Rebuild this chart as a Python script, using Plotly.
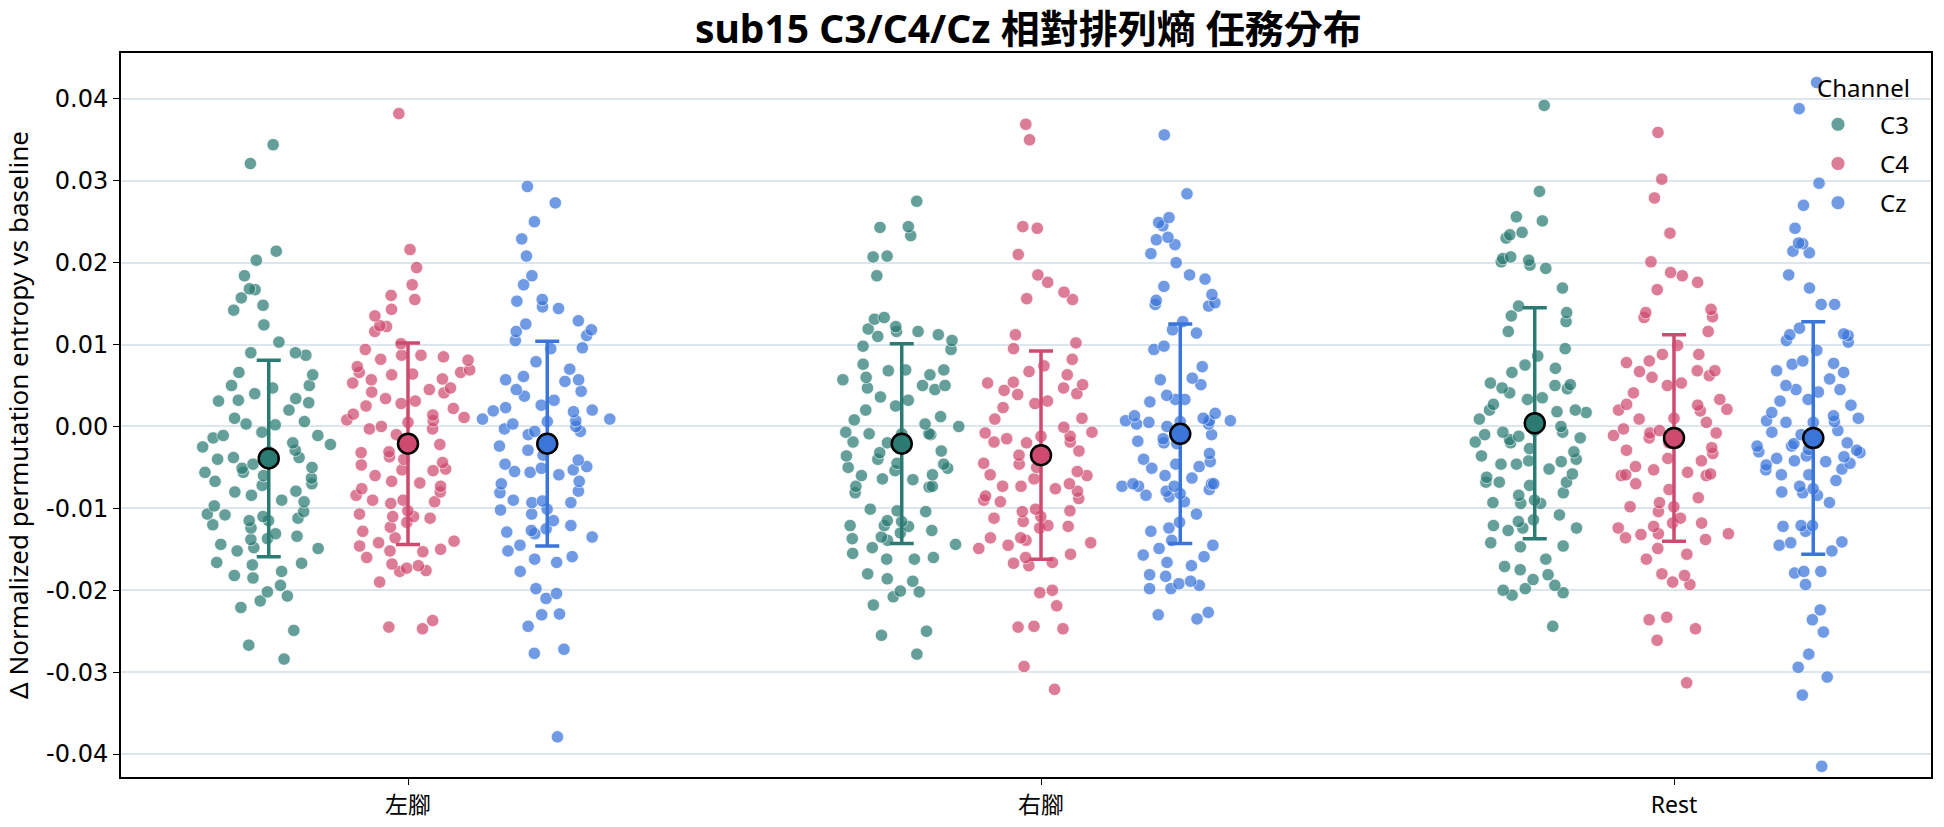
import plotly.graph_objects as go

# ---------------- data ----------------
conditions = ["左腳", "右腳", "Rest"]
channels = ["C3", "C4", "Cz"]

c3_left = [0.0344, 0.0321, 0.0214, 0.0203, 0.0184, 0.0168, 0.0167, 0.0157, 0.0148, 0.0142,
           0.0124, 0.0103, 0.0090, 0.0090, 0.0087, 0.0063, 0.0066, 0.0050, 0.0047, 0.0040,
           0.0034, 0.0032, 0.0031, 0.0029, 0.0006, 0.0003, 0.0002, -0.0007, -0.0011, -0.0011,
           -0.0014, -0.0022, -0.0025, -0.0029, -0.0038, -0.0038, -0.0031, -0.0046, -0.0051, -0.0060,
           -0.0056, -0.0056, -0.0067, -0.0072, -0.0063, -0.0079, -0.0070, -0.0084, -0.0092, -0.0097,
           -0.0104, -0.0108, -0.0110, -0.0107, -0.0112, -0.0115, -0.0124, -0.0115, -0.0131, -0.0137,
           -0.0138, -0.0144, -0.0134, -0.0149, -0.0148, -0.0152, -0.0166, -0.0167, -0.0169, -0.0177,
           -0.0182, -0.0185, -0.0194, -0.0202, -0.0207, -0.0213, -0.0221, -0.0249, -0.0267, -0.0284,
           -0.0020, -0.0040, -0.0050, 0.0010, -0.0080, -0.0090, -0.0120, 0.0020, 0.0050]
c4_left = [0.0382, 0.0216, 0.0194, 0.0173, 0.0160, 0.0155, 0.0143, 0.0135, 0.0122, 0.0123,
           0.0116, 0.0101, 0.0094, 0.0087, 0.0082, 0.0081, 0.0087, 0.0085, 0.0073, 0.0069,
           0.0066, 0.0058, 0.0063, 0.0064, 0.0057, 0.0066, 0.0053, 0.0041, 0.0047, 0.0045,
           0.0042, 0.0034, 0.0028, 0.0031, 0.0025, 0.0022, 0.0015, 0.0014, 0.0011, 0.0005,
           0.0008, 0.0007, -0.0003, -0.0003, -0.0022, -0.0032, -0.0031, -0.0037, -0.0044, -0.0054,
           -0.0053, -0.0047, -0.0052, -0.0060, -0.0069, -0.0067, -0.0076, -0.0073, -0.0084, -0.0090,
           -0.0090, -0.0094, -0.0092, -0.0103, -0.0107, -0.0117, -0.0110, -0.0110, -0.0112, -0.0123,
           -0.0128, -0.0136, -0.0140, -0.0142, -0.0146, -0.0150, -0.0153, -0.0152, -0.0160, -0.0168,
           -0.0170, -0.0176, -0.0173, -0.0177, -0.0190, -0.0237, -0.0245, -0.0247,
           -0.0010, -0.0040, 0.0000, -0.0080]
cz_left = [0.0293, 0.0273, 0.0250, 0.0229, 0.0208, 0.0184, 0.0173, 0.0155, 0.0153, 0.0144,
           0.0146, 0.0129, 0.0125, 0.0116, 0.0118, 0.0111, 0.0105, 0.0096, 0.0095, 0.0079,
           0.0070, 0.0061, 0.0057, 0.0057, 0.0055, 0.0045, 0.0043, 0.0037, 0.0032, 0.0020,
           0.0019, 0.0023, 0.0026, 0.0018, 0.0007, 0.0009, 0.0003, 0.0009, 0.0006, -0.0003,
           -0.0006, -0.0006, -0.0024, -0.0029, -0.0041, -0.0046, -0.0049, -0.0051, -0.0055, -0.0053,
           -0.0059, -0.0056, -0.0067, -0.0081, -0.0079, -0.0093, -0.0091, -0.0090, -0.0101, -0.0093,
           -0.0107, -0.0102, -0.0115, -0.0125, -0.0127, -0.0129, -0.0135, -0.0121, -0.0131, -0.0145,
           -0.0152, -0.0166, -0.0159, -0.0162, -0.0177, -0.0198, -0.0204, -0.0210, -0.0229, -0.0230,
           -0.0244, -0.0277, -0.0272, -0.0379, -0.0010, -0.0035, 0.0000, -0.0070]

c3_right = [0.0275, 0.0244, 0.0243, 0.0233, 0.0208, 0.0207, 0.0184, 0.0133, 0.0131, 0.0116,
            0.0122, 0.0119, 0.0112, 0.0110, 0.0116, 0.0098, 0.0105, 0.0094, 0.0076, 0.0068,
            0.0069, 0.0069, 0.0063, 0.0057, 0.0050, 0.0047, 0.0050, 0.0045, 0.0036, 0.0025,
            0.0032, 0.0012, 0.0008, 0.0003, 0.0000, -0.0007, -0.0009, -0.0009, -0.0009, -0.0020,
            -0.0019, -0.0032, -0.0036, -0.0050, -0.0045, -0.0046, -0.0054, -0.0051, -0.0060, -0.0059,
            -0.0064, -0.0074, -0.0073, -0.0073, -0.0081, -0.0101, -0.0104, -0.0103, -0.0115, -0.0121,
            -0.0121, -0.0116, -0.0122, -0.0127, -0.0137, -0.0139, -0.0135, -0.0148, -0.0155, -0.0162,
            -0.0144, -0.0162, -0.0160, -0.0180, -0.0186, -0.0189, -0.0208, -0.0201, -0.0202, -0.0218,
            -0.0250, -0.0255, -0.0278, -0.0010, 0.0020, -0.0040, -0.0030, -0.0065, 0.0060, -0.0130]
c4_right = [0.0369, 0.0350, 0.0242, 0.0244, 0.0210, 0.0185, 0.0176, 0.0164, 0.0156, 0.0155,
            0.0112, 0.0102, 0.0095, 0.0082, 0.0074, 0.0067, 0.0063, 0.0053, 0.0044, 0.0054,
            0.0051, 0.0047, 0.0040, 0.0039, 0.0028, 0.0031, 0.0023, 0.0009, -0.0001, -0.0015,
            -0.0008, -0.0007, -0.0019, -0.0019, -0.0012, -0.0012, -0.0046, -0.0045, -0.0059, -0.0070,
            -0.0073, -0.0064, -0.0079, -0.0073, -0.0076, -0.0088, -0.0092, -0.0090, -0.0101, -0.0104,
            -0.0110, -0.0103, -0.0116, -0.0124, -0.0121, -0.0112, -0.0122, -0.0136, -0.0136, -0.0142,
            -0.0139, -0.0145, -0.0149, -0.0160, -0.0167, -0.0156, -0.0166, -0.0170, -0.0200, -0.0203,
            -0.0219, -0.0244, -0.0247, -0.0245, -0.0293, -0.0321,
            -0.0030, -0.0050, -0.0055, 0.0010, -0.0020, -0.0060, -0.0085, -0.0035]
cz_right = [0.0356, 0.0284, 0.0249, 0.0228, 0.0255, 0.0245, 0.0231, 0.0222, 0.0211, 0.0200,
            0.0185, 0.0180, 0.0171, 0.0161, 0.0151, 0.0154, 0.0147, 0.0149, 0.0128, 0.0118,
            0.0114, 0.0098, 0.0094, 0.0073, 0.0059, 0.0057, 0.0051, 0.0038, 0.0033, 0.0033,
            0.0030, 0.0013, 0.0016, 0.0007, 0.0003, 0.0007, 0.0005, 0.0006, 0.0003, 0.0000,
            0.0007, -0.0010, -0.0021, -0.0015, -0.0018, -0.0033, -0.0043, -0.0049, -0.0046, -0.0051,
            -0.0060, -0.0063, -0.0070, -0.0070, -0.0073, -0.0077, -0.0073, -0.0070, -0.0082, -0.0084,
            -0.0079, -0.0073, -0.0086, -0.0092, -0.0107, -0.0117, -0.0124, -0.0128, -0.0139, -0.0149,
            -0.0145, -0.0159, -0.0157, -0.0166, -0.0170, -0.0183, -0.0181, -0.0192, -0.0198, -0.0189,
            -0.0198, -0.0194, -0.0230, -0.0227, -0.0235, -0.0020, 0.0010, -0.0040]

c3_rest = [0.0392, 0.0287, 0.0256, 0.0251, 0.0234, 0.0237, 0.0230, 0.0205, 0.0207, 0.0203,
           0.0197, 0.0193, 0.0201, 0.0169, 0.0147, 0.0139, 0.0135, 0.0128, 0.0116, 0.0095,
           0.0086, 0.0075, 0.0071, 0.0066, 0.0053, 0.0051, 0.0047, 0.0050, 0.0046, 0.0041,
           0.0035, 0.0033, 0.0027, 0.0020, 0.0018, 0.0017, 0.0009, -0.0007, -0.0010, -0.0014,
           -0.0007, -0.0012, -0.0016, -0.0019, -0.0027, -0.0031, -0.0036, -0.0042, -0.0043, -0.0046,
           -0.0046, -0.0052, -0.0058, -0.0062, -0.0068, -0.0068, -0.0072, -0.0068, -0.0084, -0.0081,
           -0.0090, -0.0093, -0.0094, -0.0094, -0.0108, -0.0114, -0.0116, -0.0127, -0.0124, -0.0124,
           -0.0121, -0.0142, -0.0146, -0.0147, -0.0162, -0.0171, -0.0175, -0.0187, -0.0181, -0.0200,
           -0.0206, -0.0194, -0.0198, -0.0203, -0.0244, -0.0005, 0.0000, 0.0020, -0.0020, -0.0040]
c4_rest = [0.0359, 0.0302, 0.0279, 0.0236, 0.0201, 0.0188, 0.0184, 0.0176, 0.0167, 0.0139,
           0.0133, 0.0143, 0.0134, 0.0116, 0.0099, 0.0088, 0.0088, 0.0080, 0.0078, 0.0067,
           0.0060, 0.0068, 0.0068, 0.0062, 0.0053, 0.0050, 0.0041, 0.0033, 0.0027, 0.0026,
           0.0021, 0.0019, 0.0020, 0.0009, 0.0005, -0.0003, -0.0008, -0.0014, -0.0011, -0.0008,
           -0.0026, -0.0033, -0.0029, -0.0039, -0.0042, -0.0049, -0.0059, -0.0058, -0.0053, -0.0056,
           -0.0060, -0.0060, -0.0077, -0.0087, -0.0093, -0.0104, -0.0098, -0.0098, -0.0112, -0.0118,
           -0.0122, -0.0124, -0.0118, -0.0131, -0.0132, -0.0136, -0.0138, -0.0131, -0.0149, -0.0162,
           -0.0156, -0.0182, -0.0180, -0.0190, -0.0193, -0.0236, -0.0233, -0.0247, -0.0261, -0.0313,
           -0.0005, -0.0020, 0.0010, -0.0070]
cz_rest = [0.0420, 0.0388, 0.0297, 0.0270, 0.0242, 0.0223, 0.0214, 0.0224, 0.0212, 0.0185,
           0.0169, 0.0149, 0.0149, 0.0120, 0.0113, 0.0111, 0.0112, 0.0103, 0.0105, 0.0093,
           0.0077, 0.0080, 0.0076, 0.0068, 0.0066, 0.0058, 0.0050, 0.0045, 0.0042, 0.0045,
           0.0031, 0.0026, 0.0033, 0.0017, 0.0013, 0.0007, 0.0005, 0.0006, 0.0005, -0.0005,
           -0.0007, -0.0021, -0.0028, -0.0024, -0.0024, -0.0031, -0.0032, -0.0029, -0.0037, -0.0043,
           -0.0047, -0.0036, -0.0039, -0.0042, -0.0053, -0.0052, -0.0059, -0.0059, -0.0066, -0.0073,
           -0.0076, -0.0080, -0.0081, -0.0093, -0.0084, -0.0121, -0.0121, -0.0128, -0.0122, -0.0142,
           -0.0145, -0.0141, -0.0152, -0.0179, -0.0177, -0.0177, -0.0193, -0.0224, -0.0236, -0.0251,
           -0.0278, -0.0294, -0.0306, -0.0328, -0.0415, -0.0010, -0.0020, 0.0010, -0.0045]

values = {
    "C3": [c3_left, c3_right, c3_rest],
    "C4": [c4_left, c4_right, c4_rest],
    "Cz": [cz_left, cz_right, cz_rest],
}

mean_c3 = [-0.0039, -0.0021, 0.0004]
mean_c4 = [-0.0021, -0.0035, -0.0014]
mean_cz = [-0.0021, -0.0009, -0.0014]
sd_c3 = [0.0120, 0.0122, 0.0141]
sd_c4 = [0.0123, 0.0127, 0.0126]
sd_cz = [0.0125, 0.0134, 0.0142]
means = {"C3": mean_c3, "C4": mean_c4, "Cz": mean_cz}
sds = {"C3": sd_c3, "C4": sd_c4, "Cz": sd_cz}

y_ticks = [-0.04, -0.03, -0.02, -0.01, 0.0, 0.01, 0.02, 0.03, 0.04]

# ---------------- style ----------------
colors = {"C3": "#2b7b73", "C4": "#cf4a6f", "Cz": "#3a75da"}
dodge = {"C3": -0.22, "C4": 0.0, "Cz": 0.22}
FONT = "Noto Sans, Noto Sans CJK TC, sans-serif"
NUMFONT = "DejaVu Sans, Noto Sans, sans-serif"

fig = go.Figure()

for ch in channels:
    for i, cond in enumerate(conditions):
        vals = values[ch][i]
        fig.add_trace(go.Box(
            x=[i + dodge[ch]] * len(vals), y=vals,
            boxpoints="all", jitter=1, pointpos=0, width=0.215,
            fillcolor="rgba(0,0,0,0)", line=dict(width=0, color="rgba(0,0,0,0)"),
            marker=dict(color=colors[ch], opacity=0.72, size=12.5,
                        line=dict(color="white", width=0.8)),
            showlegend=False, hoverinfo="y", name=ch,
        ))

for ch in channels:
    fig.add_trace(go.Scatter(
        x=[i + dodge[ch] for i in range(len(conditions))], y=means[ch],
        mode="markers",
        marker=dict(color=colors[ch], size=20, line=dict(color="black", width=2.5)),
        error_y=dict(type="data", array=sds[ch], color=colors[ch], thickness=3.5, width=12),
        showlegend=False, name=ch + " mean",
    ))

for ch in channels:
    fig.add_trace(go.Scatter(
        x=[None], y=[None], mode="markers", name=ch, legendgroup=ch,
        marker=dict(color=colors[ch], opacity=0.72, size=14, line=dict(color="white", width=0.8)),
    ))

fig.add_annotation(text="Channel", xref="paper", yref="paper", x=0.9629, y=0.953,
                   xanchor="center", yanchor="middle", showarrow=False,
                   font=dict(size=24, family=FONT, color="black"))

fig.update_layout(
    width=1944, height=827,
    margin=dict(l=121, r=13, t=53, b=50, autoexpand=False),
    paper_bgcolor="white", plot_bgcolor="white",
    font=dict(family=FONT, size=22, color="black"),
    title=dict(text="<b>sub15 C3/C4/Cz 相對排列熵 任務分布</b>", x=0.529, xanchor="center",
               y=0.964, yanchor="middle", font=dict(size=39, family=FONT)),
    boxmode="overlay",
    showlegend=True,
    legend=dict(x=0.9254, xanchor="left", y=0.932, yanchor="top", font=dict(size=24),
                bgcolor="rgba(0,0,0,0)", itemwidth=74, tracegroupgap=5),
    xaxis=dict(range=[-0.4534, 2.406], tickmode="array", tickvals=[0, 1, 2], ticktext=conditions,
               showgrid=False, zeroline=False, showline=True, linecolor="black", linewidth=2,
               mirror=True, ticks="outside", ticklen=6, tickcolor="black", automargin=False,
               tickfont=dict(size=23, family=FONT)),
    yaxis=dict(range=[-0.0428, 0.0456], tickmode="array", tickvals=y_ticks,
               ticktext=["%.2f" % v for v in y_ticks], automargin=False,
               showgrid=True, gridcolor="#dde5ed", gridwidth=1.5, zeroline=False,
               showline=True, linecolor="black", linewidth=2, mirror=True,
               ticks="outside", ticklen=6, tickcolor="black",
               tickfont=dict(size=24, family=NUMFONT),
               title=dict(text="Δ Normalized permutation entropy vs baseline",
                          font=dict(size=26, family=FONT))),
)

fig.write_html("out.html")
